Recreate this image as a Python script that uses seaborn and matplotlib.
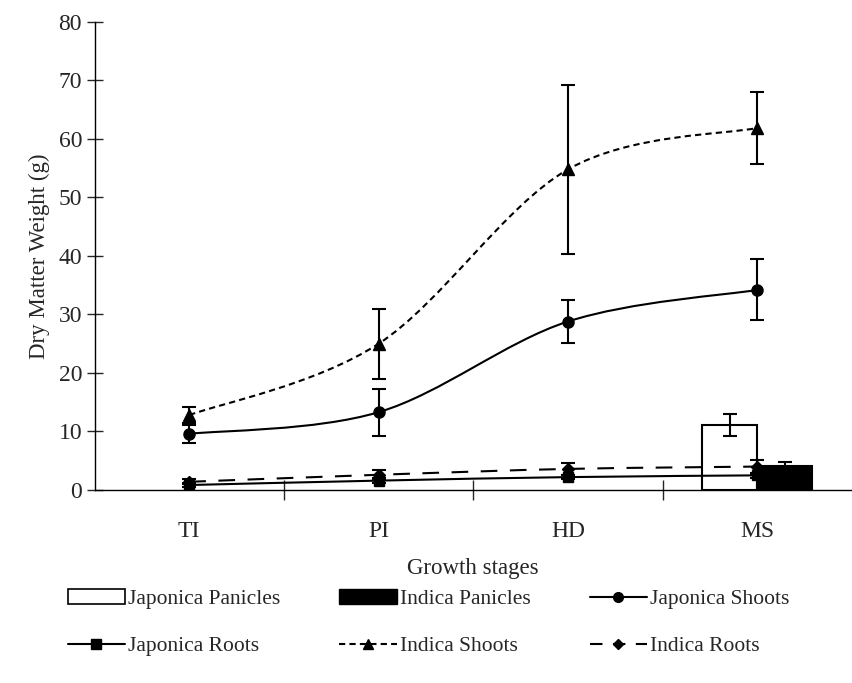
import numpy as np
import pandas as pd
import seaborn as sns
import matplotlib.pyplot as plt
from matplotlib.path import Path
from matplotlib.patches import PathPatch, Patch
from matplotlib.lines import Line2D

stages = ["TI", "PI", "HD", "MS"]

jap_shoots = [9.6, 13.3, 28.8, 34.2]
jap_shoots_err = [1.5, 4.0, 3.6, 5.2]
ind_shoots = [12.8, 25.0, 54.8, 61.9]
ind_shoots_err = [1.4, 6.0, 14.4, 6.1]
jap_roots = [0.85, 1.6, 2.2, 2.5]
jap_roots_err = [0.3, 0.4, 0.4, 0.4]
ind_roots = [1.4, 2.6, 3.6, 4.0]
ind_roots_err = [0.4, 0.8, 1.0, 1.2]

jap_panicles = [np.nan, np.nan, np.nan, 11.1]
jap_panicles_err = [np.nan, np.nan, np.nan, 1.9]
ind_panicles = [np.nan, np.nan, np.nan, 4.1]
ind_panicles_err = [np.nan, np.nan, np.nan, 0.6]

sns.set_theme(style="ticks")
plt.rcParams["font.family"] = ["Liberation Serif", "DejaVu Serif"]

df_pan = pd.DataFrame({
    "Stage": stages * 2,
    "Weight": jap_panicles + ind_panicles,
    "Variety": ["Japonica Panicles"] * 4 + ["Indica Panicles"] * 4,
})

fig = plt.figure(figsize=(8.52, 6.83), dpi=100)
ax = fig.add_axes([0.111, 0.2826, 0.889, 0.6852])

bar_w = 0.58
sns.barplot(data=df_pan, x="Stage", y="Weight", hue="Variety", order=stages,
            hue_order=["Japonica Panicles", "Indica Panicles"],
            palette=["white", "black"], edgecolor="black", linewidth=1.5,
            width=bar_w, dodge=True, errorbar=None, legend=False, ax=ax)

xpos = np.arange(len(stages))
off = bar_w / 4
ax.errorbar(xpos - off, jap_panicles, yerr=jap_panicles_err, fmt="none",
            ecolor="black", elinewidth=1.5, capsize=5, capthick=1.5, zorder=4)
ax.errorbar(xpos + off, ind_panicles, yerr=ind_panicles_err, fmt="none",
            ecolor="black", elinewidth=1.5, capsize=5, capthick=1.5, zorder=4)


def smooth_path(x, y):
    pts = np.column_stack([x, y]).astype(float)
    verts = [pts[0]]
    codes = [Path.MOVETO]
    n = len(pts)
    for i in range(n - 1):
        p0 = pts[i - 1] if i > 0 else pts[i]
        p1 = pts[i]
        p2 = pts[i + 1]
        p3 = pts[i + 2] if i + 2 < n else pts[i + 1]
        c1 = p1 + (p2 - p0) / 6
        c2 = p2 - (p3 - p1) / 6
        verts += [c1, c2, p2]
        codes += [Path.CURVE4] * 3
    return Path(verts, codes)


series = [
    (jap_shoots, jap_shoots_err, "o", "-", 8),
    (ind_shoots, ind_shoots_err, "^", (0, (3, 2)), 8),
    (jap_roots, jap_roots_err, "s", "-", 7),
    (ind_roots, ind_roots_err, "D", (0, (8, 6)), 6),
]
for vals, errs, mk, ls, ms in series:
    ax.add_patch(PathPatch(smooth_path(xpos, vals), fill=False, edgecolor="black",
                           linewidth=1.5, linestyle=ls, zorder=3))
    ax.errorbar(xpos, vals, yerr=errs, fmt="none", ecolor="black",
                elinewidth=1.5, capsize=5, capthick=1.5, zorder=4)
    ax.plot(xpos, vals, linestyle="none", marker=mk, markersize=ms,
            color="black", zorder=5)

ax.set_xlim(-0.5, 3.5)
ax.set_ylim(0, 80)
ax.set_yticks(range(0, 81, 10))
ax.set_xticks(xpos)
ax.set_xticklabels(stages)
ax.set_xticks(np.arange(-0.5, 3.6, 1.0)[1:-1], minor=True)
ax.tick_params(axis="x", which="major", length=0, pad=22, labelsize=17)
ax.tick_params(axis="x", which="minor", length=14, direction="inout", width=1)
ax.tick_params(axis="y", length=12, direction="inout", width=1, labelsize=17, pad=3)
sns.despine(ax=ax)
for s in ["left", "bottom"]:
    ax.spines[s].set_linewidth(1)
    ax.spines[s].set_color("black")

ax.set_xlabel("Growth stages", fontsize=16.5, labelpad=12)
ax.set_ylabel("Dry Matter Weight (g)", fontsize=16.5, labelpad=6)

handles = [
    Patch(facecolor="white", edgecolor="black", linewidth=1.2, label="Japonica Panicles"),
    Line2D([], [], color="black", marker="s", markersize=7, lw=1.5, label="Japonica Roots"),
    Patch(facecolor="black", edgecolor="black", label="Indica Panicles"),
    Line2D([], [], color="black", marker="^", markersize=7, lw=1.5, ls=(0, (3, 2)), label="Indica Shoots"),
    Line2D([], [], color="black", marker="o", markersize=7, lw=1.5, label="Japonica Shoots"),
    Line2D([], [], color="black", marker="D", markersize=5, lw=1.5, ls=(0, (6, 5)), label="Indica Roots"),
]
fig.legend(handles=handles, ncol=3, loc="center", bbox_to_anchor=(0.503, 0.088),
           frameon=False, fontsize=15.5, handlelength=2.65, handletextpad=0.15,
           columnspacing=2.75, labelspacing=1.25)

fig.savefig("out.png", dpi=100)
